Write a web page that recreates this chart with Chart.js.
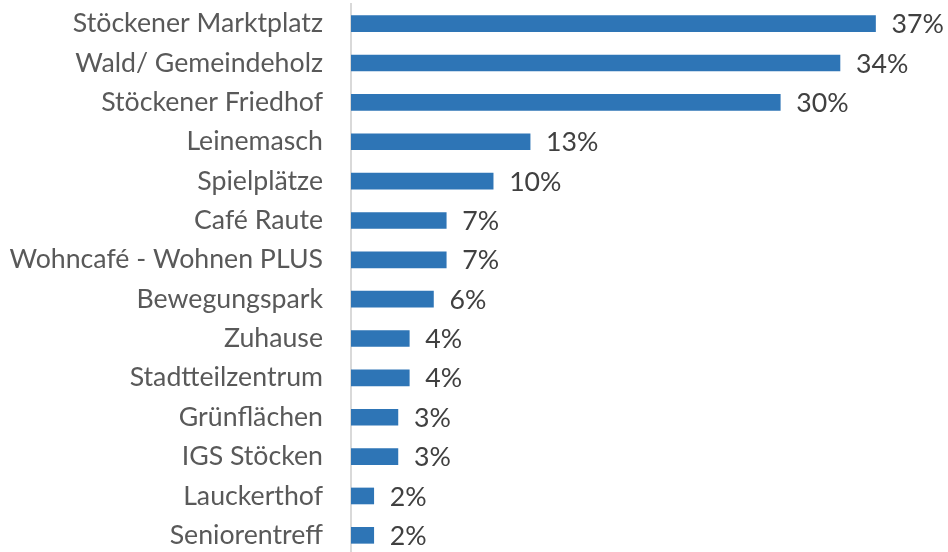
<!DOCTYPE html>
<html>
<head>
<meta charset="utf-8">
<script src="https://cdn.jsdelivr.net/npm/chart.js@4/dist/chart.umd.min.js"></script>
<style>
  html, body { margin: 0; padding: 0; background: #fff; overflow: hidden; }
  canvas { display: block; }
</style>
</head>
<body>
<canvas id="orteChart" width="948" height="555" style="width:948px;height:555px"></canvas>
<script>
const places = ['Stöckener Marktplatz', 'Wald/ Gemeindeholz', 'Stöckener Friedhof', 'Leinemasch',
  'Spielplätze', 'Café Raute', 'Wohncafé - Wohnen PLUS', 'Bewegungspark', 'Zuhause',
  'Stadtteilzentrum', 'Grünflächen', 'IGS Stöcken', 'Lauckerthof', 'Seniorentreff'];
const shares = [36.9, 34.4, 30.2, 12.6, 10.0, 6.7, 6.7, 5.8, 4.1, 4.1, 3.3, 3.3, 1.6, 1.6];
const barColor = '#2e75b6';

const valueLabels = {
  id: 'valueLabels',
  afterDatasetsDraw(chart) {
    const c = chart.ctx;
    const meta = chart.getDatasetMeta(0);
    c.save();
    c.font = '26.7px Lato';
    c.fillStyle = '#404040';
    c.textBaseline = 'middle';
    c.textAlign = 'left';
    meta.data.forEach((bar, i) => {
      c.fillText(Math.round(shares[i]) + '%', bar.x + 16, bar.y + 1);
    });
    c.restore();
  }
};

const ctx = document.getElementById('orteChart').getContext('2d');
let orteChart = new Chart(ctx, {
  type: 'bar',
  data: {
    labels: places,
    datasets: [{
      data: shares,
      backgroundColor: barColor,
      borderWidth: 0,
      barThickness: 16
    }]
  },
  options: {
    indexAxis: 'y',
    responsive: false,
    animation: false,
    layout: { padding: { top: 4, right: 0, bottom: 0, left: 0 } },
    plugins: { legend: { display: false }, tooltip: { enabled: false } },
    scales: {
      x: { display: false, min: 0, max: 42 },
      y: {
        afterFit: scale => {
          scale.width = 351;
          scale.paddingTop = 0;
          scale.paddingBottom = 0;
        },
        grid: { display: false, drawTicks: false },
        border: { display: true, color: '#d9d9d9', width: 2 },
        ticks: { color: '#595959', font: { family: 'Lato', size: 26.7 }, padding: 28 }
      }
    }
  },
  plugins: [valueLabels]
});
</script>
</body>
</html>
